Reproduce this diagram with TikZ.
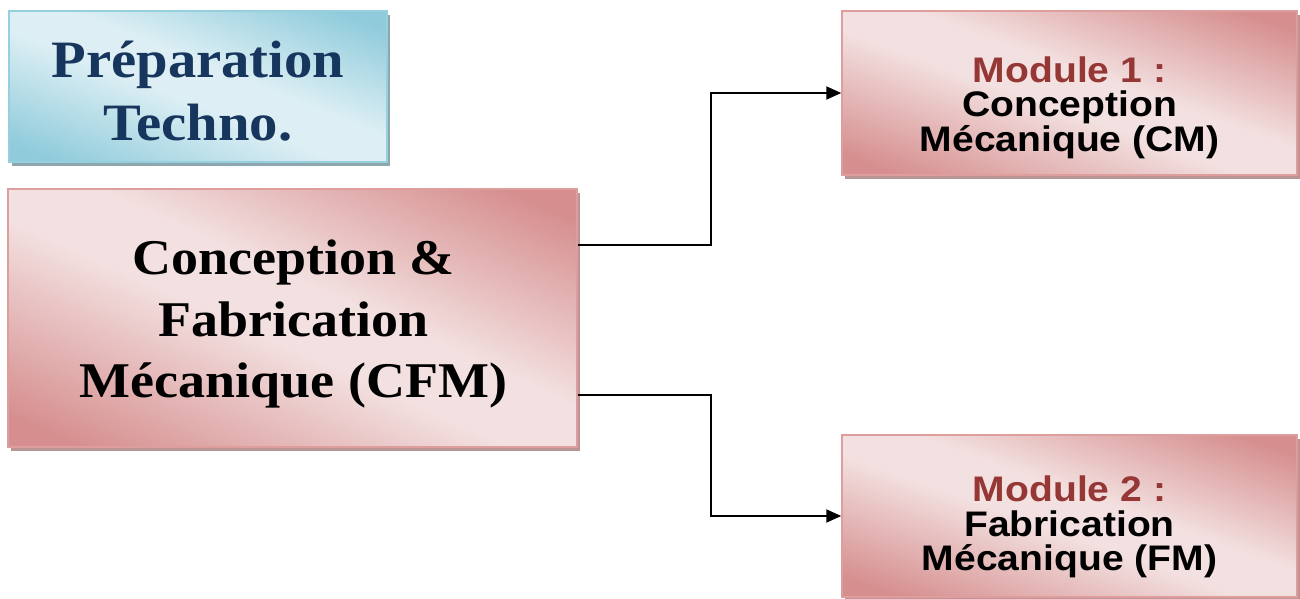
\documentclass[tikz,border=0pt]{standalone}
\usepackage{fontspec}
\usetikzlibrary{shadows,arrows.meta,calc}
\newfontfamily\serifbx[FakeStretch=1.08]{Liberation Serif}
\newfontfamily\sansbx[FakeStretch=1.1]{Liberation Sans}
\definecolor{pinkdark}{HTML}{D68E8E}
\definecolor{pinklight}{HTML}{F3E0E0}
\definecolor{pinkline}{HTML}{DE9E9E}
\definecolor{pinkshadow}{HTML}{B99595}
\definecolor{bluedark}{HTML}{8FCBDB}
\definecolor{bluelight}{HTML}{DDEFF4}
\definecolor{blueline}{HTML}{96CFDD}
\definecolor{blueshadow}{HTML}{8EA7AF}
\definecolor{navytext}{HTML}{17365D}
\definecolor{redtext}{HTML}{953735}
\pgfdeclareverticalshading{pinkdiag}{100bp}{color(0bp)=(pinkdark); color(6bp)=(pinkdark); color(44bp)=(pinklight); color(58bp)=(pinklight); color(94bp)=(pinkdark); color(100bp)=(pinkdark)}
\pgfdeclareverticalshading{bluediag}{100bp}{color(0bp)=(bluedark); color(6bp)=(bluedark); color(44bp)=(bluelight); color(58bp)=(bluelight); color(94bp)=(bluedark); color(100bp)=(bluedark)}
\tikzset{
  diagfill/.style={path picture={%
    \pgfpointdiff{\pgfpointanchor{path picture bounding box}{south west}}{\pgfpointanchor{path picture bounding box}{north east}}%
    \pgfgetlastxy{\dwx}{\dwy}%
    \pgfmathsetmacro{\dsx}{\dwx/100.375}%
    \pgfmathsetmacro{\dsy}{\dwy/100.375}%
    \pgftransformshift{\pgfpointanchor{path picture bounding box}{center}}%
    \pgftransformxscale{\dsx}\pgftransformyscale{\dsy}%
    \pgftransformrotate{-45}\pgftransformscale{1.4143}%
    \pgflowlevelsynccm\pgfuseshading{#1}}},
  pinkbox/.style={draw=pinkline, line width=1.5pt, fill=pinklight, diagfill=pinkdiag,
    general shadow={fill=pinkshadow, shadow xshift=3pt, shadow yshift=-4pt}},
  bluebox/.style={draw=blueline, line width=1.5pt, fill=bluelight, diagfill=bluediag,
    general shadow={fill=blueshadow, shadow xshift=3pt, shadow yshift=-4pt}},
  boxtext/.style={align=center, inner sep=0pt},
  bigtext/.style={boxtext, font=\serifbx\bfseries\fontsize{50}{61.7}\selectfont},
  prepfont/.style={boxtext, font=\serifbx\bfseries\fontsize{52.5}{63.4}\selectfont, text=navytext},
  modfont/.style={boxtext, font=\sansbx\bfseries\fontsize{35.5}{34.5}\selectfont},
  arr/.style={line width=2pt, -{Triangle[length=15pt,width=13pt]}}
}
\begin{document}
\begin{tikzpicture}[x=1pt,y=-1pt]
\useasboundingbox (0,0) rectangle (1300,599);
\node[bluebox, minimum width=378pt, minimum height=151pt] (prep) at (198,86.5) {};
\node[pinkbox, minimum width=569pt, minimum height=258pt] (cfm) at (292.5,318) {};
\node[pinkbox, minimum width=455pt, minimum height=164pt] (m1) at (1069.5,93) {};
\node[pinkbox, minimum width=455pt, minimum height=162pt] (m2) at (1069.5,516) {};
\node[prepfont] (preptxt) at ([yshift=-4.5pt]prep.center) {Préparation\\Techno.};
\node[bigtext] (cfmtxt) at ([xshift=1pt,yshift=-6pt]cfm.center) {Conception \&\\Fabrication\\Mécanique (CFM)};
\node[modfont] (m1txt) at ([yshift=-14.5pt]m1.center)
  {\textcolor{redtext}{Module 1 :}\\Conception\\Mécanique (CM)};
\node[modfont] (m2txt) at ([yshift=-11pt]m2.center)
  {\textcolor{redtext}{Module 2 :}\\Fabrication\\Mécanique (FM)};
\draw[arr] ([yshift=73pt]cfm.east) -- ++(133pt,0) |- (m1.west);
\draw[arr] ([yshift=-77pt]cfm.east) -- ++(133pt,0) |- (m2.west);
\end{tikzpicture}
\end{document}
